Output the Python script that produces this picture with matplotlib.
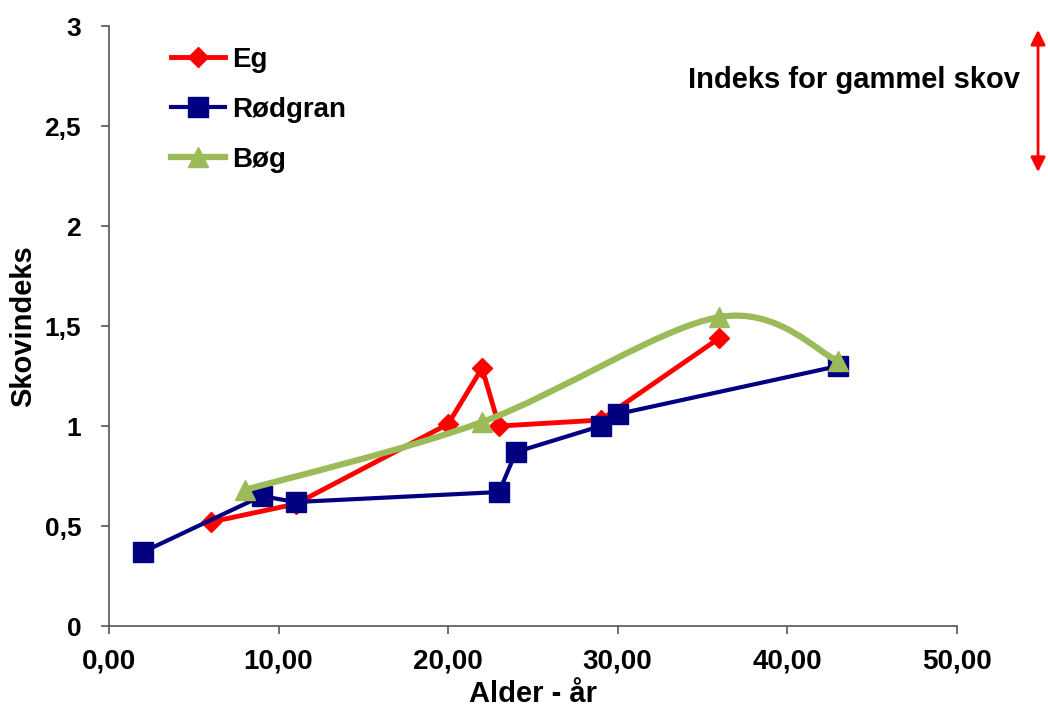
import matplotlib
matplotlib.use("Agg")
import matplotlib.pyplot as plt
from matplotlib.path import Path
from matplotlib.patches import PathPatch, FancyArrowPatch
from matplotlib.ticker import FuncFormatter, MultipleLocator
from matplotlib.lines import Line2D

plt.rcParams['font.family'] = ['Liberation Sans', 'DejaVu Sans']
plt.rcParams['font.weight'] = 'bold'

eg_x = [6, 11, 20, 22, 23, 29, 36]
eg_y = [0.52, 0.61, 1.01, 1.29, 1.00, 1.03, 1.44]

gran_x = [2, 9, 11, 23, 24, 29, 30, 43]
gran_y = [0.37, 0.65, 0.62, 0.67, 0.87, 1.00, 1.06, 1.30]

bog_x = [8, 22, 36, 43]
bog_y = [0.68, 1.02, 1.545, 1.325]

RED = '#FF0000'
NAVY = '#000080'
GREEN = '#9BBB59'

fig = plt.figure(figsize=(10.48, 7.11), dpi=100)
ax = fig.add_axes([0.104, 0.1195, 0.809, 0.8439])

ax.plot(eg_x, eg_y, color=RED, lw=3.5, marker='D', ms=10, mec=RED, mfc=RED,
        zorder=3)
ax.plot(gran_x, gran_y, color=NAVY, lw=3, marker='s', ms=14, mec=NAVY, mfc=NAVY,
        zorder=4)

# Excel-style smoothed line (Catmull-Rom Bezier through the data points)
pts = list(zip(bog_x, bog_y))
verts = [pts[0]]
codes = [Path.MOVETO]
n = len(pts)
for i in range(n - 1):
    p0 = pts[i - 1] if i > 0 else pts[i]
    p1 = pts[i]
    p2 = pts[i + 1]
    p3 = pts[i + 2] if i + 2 < n else pts[i + 1]
    c1 = (p1[0] + (p2[0] - p0[0]) / 6, p1[1] + (p2[1] - p0[1]) / 6)
    c2 = (p2[0] - (p3[0] - p1[0]) / 6, p2[1] - (p3[1] - p1[1]) / 6)
    verts += [c1, c2, p2]
    codes += [Path.CURVE4] * 3
patch = PathPatch(Path(verts, codes), facecolor='none', edgecolor=GREEN,
                  lw=4.5, capstyle='round', zorder=5)
ax.add_patch(patch)
ax.plot(bog_x, bog_y, ls='none', marker='^', ms=15, mec=GREEN, mfc=GREEN,
        zorder=6)

ax.set_xlim(0, 50)
ax.set_ylim(0, 3)
ax.xaxis.set_major_locator(MultipleLocator(10))
ax.yaxis.set_major_locator(MultipleLocator(0.5))
ax.xaxis.set_major_formatter(FuncFormatter(lambda v, p: f"{v:.2f}".replace('.', ',')))
ax.yaxis.set_major_formatter(FuncFormatter(lambda v, p: f"{v:g}".replace('.', ',')))

for s in ['top', 'right']:
    ax.spines[s].set_visible(False)
for s in ['left', 'bottom']:
    ax.spines[s].set_color('#555555')
    ax.spines[s].set_linewidth(1.2)
ax.tick_params(direction='out', length=6, width=1.2, color='#555555')
ax.tick_params(axis='x', labelsize=20, pad=10)
ax.tick_params(axis='y', labelsize=19, pad=14)
for lab in ax.get_xticklabels() + ax.get_yticklabels():
    lab.set_fontweight('bold')

ax.set_xlabel('Alder - år', fontsize=21, fontweight='bold', labelpad=4)
ax.set_ylabel('Skovindeks', fontsize=21, fontweight='bold', labelpad=5)

handles = [
    Line2D([], [], color=RED, lw=3.5, marker='D', ms=10, mfc=RED, mec=RED),
    Line2D([], [], color=NAVY, lw=3, marker='s', ms=14, mfc=NAVY, mec=NAVY),
    Line2D([], [], color=GREEN, lw=4.5, marker='^', ms=15, mfc=GREEN, mec=GREEN),
]
leg = ax.legend(handles, ['Eg', 'Rødgran', 'Bøg'], loc='upper left',
                bbox_to_anchor=(0.044, 1.007), frameon=False,
                prop={'size': 20, 'weight': 'bold'}, handlelength=1.95,
                handletextpad=0.25, labelspacing=0.87)

fig.text(0.973, 0.8875, 'Indeks for gammel skov', ha='right', va='center',
         fontsize=21, fontweight='bold')
fig.patches.append(FancyArrowPatch(
    (0.9905, 0.958), (0.9905, 0.758), transform=fig.transFigure,
    arrowstyle='<|-|>', mutation_scale=22, color=RED, lw=2,
    shrinkA=0, shrinkB=0))

fig.savefig('out.png', dpi=100)
